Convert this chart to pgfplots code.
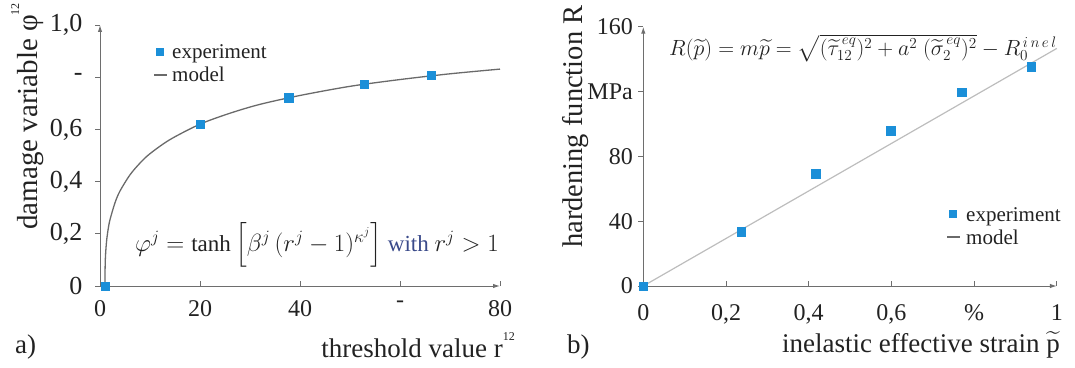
\documentclass[border=0pt]{standalone}
\usepackage{fontspec}
\setmainfont{Liberation Serif}
\usepackage{amsmath}
\usepackage{graphicx}
\usepackage{pgfplots}
\pgfplotsset{compat=1.18}
\usetikzlibrary{arrows.meta}
\definecolor{expblue}{HTML}{1B8FD8}
\definecolor{axgray}{HTML}{6E6E6E}
\definecolor{curvegray}{HTML}{6A6A6A}
\definecolor{linegray}{HTML}{BDBDBD}
\definecolor{txt}{HTML}{222222}
\definecolor{withblue}{HTML}{3A4A8A}
\pgfplotsset{
  mystyle/.style={
    scale only axis,
    axis lines=left,
    axis line style={axgray, line width=1pt, -{Latex[length=7pt,width=4.5pt]}},
    tick align=outside,
    major tick length=5pt,
    tick style={axgray, line width=0.9pt},
    xtick style={yshift=5pt},
    ticklabel style={font=\fontsize{24}{24}\selectfont, text=txt},
    clip=false,
  }
}
\begin{document}
\begin{tikzpicture}
\useasboundingbox (0pt,0pt) rectangle (1075pt,367pt);
% ---------- a) ----------
\begin{axis}[mystyle,
  at={(100pt,81pt)}, anchor=origin,
  width=400pt, height=261pt,
  xmin=0, xmax=80, ymin=0, ymax=1,
  xtick={0,20,40,60,80}, xticklabels={0,20,40,-,80},
  ytick={0,0.2,0.4,0.6,0.8,1.0}, yticklabels={0,{0,2},{0,4},{0,6},-,{1,0}},
  x tick label style={yshift=-6pt},
  y tick label style={xshift=-9pt, font=\fontsize{26}{26}\selectfont},
]
\addplot[only marks, mark=square*, mark size=4.3pt, color=expblue]
  coordinates {(1,0) (20,0.62) (37.7,0.721) (52.8,0.773) (66.2,0.807)};
\addplot[curvegray, line width=1.3pt, smooth]
  coordinates {(1,0) (1.02,0.067) (1.1,0.116) (1.3,0.169) (1.6,0.214)
  (2,0.254) (3,0.319) (4,0.364) (6,0.426) (8,0.471) (10,0.507) (14,0.561)
  (20,0.620) (26,0.662) (32,0.696) (40,0.730) (50,0.765) (60,0.791)
  (70,0.813) (80,0.831)};
\end{axis}
% ---------- b) ----------
\begin{axis}[mystyle,
  at={(643.3pt,81pt)}, anchor=origin,
  width=413.5pt, height=259.3pt,
  xmin=0, xmax=1, ymin=0, ymax=160,
  xtick={0,0.2,0.4,0.6,0.8,1}, xticklabels={0,{0,2},{0,4},{0,6},\%,1},
  ytick={0,40,80,120,160}, yticklabels={0,40,80,MPa,160},
  x tick label style={yshift=-10pt},
  y tick label style={xshift=-2pt},
]
\addplot[linegray, line width=1.2pt] coordinates {(0,0) (1.0,146.6)};
\addplot[only marks, mark=square*, mark size=4.3pt, color=expblue]
  coordinates {(0,0) (0.237,33.4) (0.417,69.3) (0.598,96) (0.770,119.6) (0.938,135.4)};
\end{axis}
% ---------- legends ----------
\begin{scope}[font=\fontsize{21}{21}\selectfont, text=txt]
\fill[expblue] (156pt,311pt) rectangle (164pt,319pt);
\node[anchor=base west, inner sep=0pt] at (172pt,308pt) {experiment};
\draw[curvegray, line width=1.3pt] (154pt,292pt) -- (167pt,292pt);
\node[anchor=base west, inner sep=0pt] at (172pt,285pt) {model};
\fill[expblue] (949pt,149pt) rectangle (957pt,157pt);
\node[anchor=base west, inner sep=0pt] at (966pt,146pt) {experiment};
\draw[curvegray, line width=1.3pt] (947pt,130pt) -- (960pt,130pt);
\node[anchor=base west, inner sep=0pt] at (966pt,123pt) {model};
\end{scope}
% ---------- labels ----------
\begin{scope}[text=txt]
\node[anchor=base east, inner sep=0pt, font=\fontsize{27}{27}\selectfont]
  at (515pt,10pt) {threshold value r\raisebox{0.62em}{\fontsize{12}{12}\selectfont 12}};
\node[anchor=base east, inner sep=0pt, font=\fontsize{27}{27}\selectfont]
  at (1060pt,15pt) {inelastic effective strain \(\widetilde{\text{p}}\)};
\node[anchor=base west, inner sep=0pt, font=\fontsize{27}{27}\selectfont]
  at (15pt,14pt) {a)};
\node[anchor=base west, inner sep=0pt, font=\fontsize{27}{27}\selectfont]
  at (567pt,14pt) {b)};
\node[anchor=base west, inner sep=0pt, rotate=90, font=\fontsize{29}{29}\selectfont]
  at (37pt,137pt) {damage variable φ\raisebox{0.62em}{\fontsize{12}{12}\selectfont 12}};
\node[anchor=base west, inner sep=0pt, rotate=90, font=\fontsize{28.5}{28.5}\selectfont]
  at (582pt,119pt) {hardening function R};
\node[font=\fontsize{23}{23}\selectfont, inner sep=0pt] at (317pt,122pt)
  {\(\varphi^j = \tanh\left[\beta^j\,(r^j-1)^{\kappa^j}\right]\) \textcolor{withblue}{with} \(r^j > 1\)};
\node[font=\fontsize{22}{22}\selectfont, inner sep=0pt] at (863pt,319pt)
  {\scalebox{1.06}{\(R(\widetilde{p}) = m\widetilde{p} = \sqrt{(\widetilde{\tau}^{\,eq}_{12})^2 + a^2\ (\widetilde{\sigma}^{\,eq}_{2})^2} - R_0^{\,i\,n\,e\,l}\)}};
\end{scope}
\end{tikzpicture}
\end{document}
